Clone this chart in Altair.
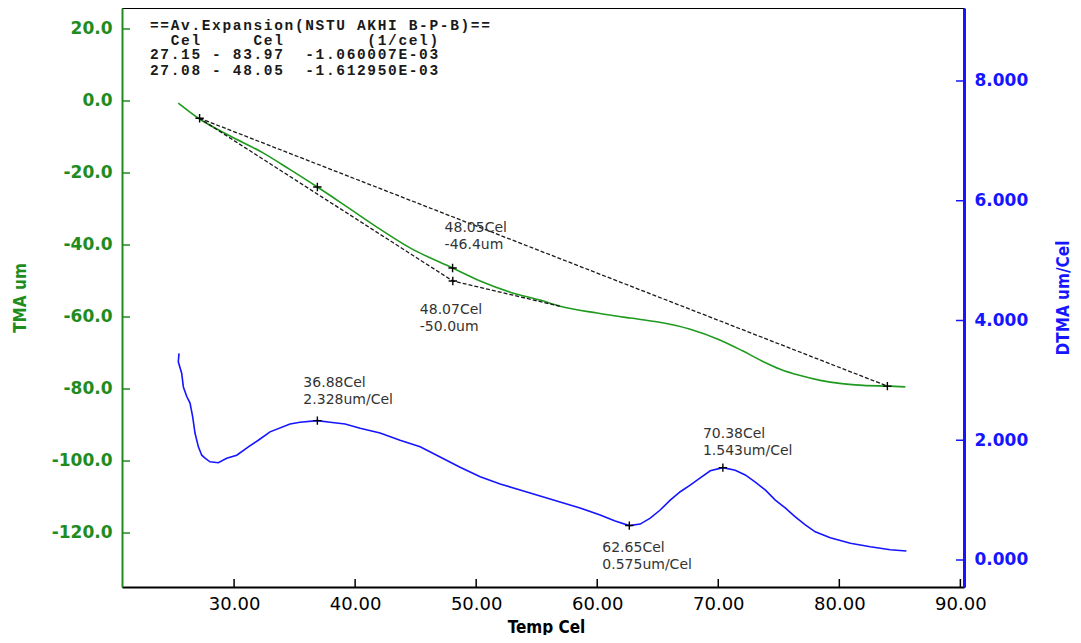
import altair as alt
import pandas as pd

# ---------------- data ----------------
tma_temp = [25.39, 27.05, 29.6, 32.39, 34.6, 36.88, 39.33, 42.06, 44.54, 48.05, 50.33,
            52.81, 55.28, 56.93, 59.99, 62.72, 65.04, 67.68, 70.08, 72.0, 73.6, 75.12,
            76.7, 78.43, 80.2, 81.98, 84.13, 85.45]
tma_val = [-0.6, -4.8, -9.6, -14.4, -19.0, -23.9, -29.4, -35.6, -40.8, -46.4, -50.0,
           -53.1, -55.3, -57.0, -58.9, -60.3, -61.4, -63.4, -66.3, -69.4, -72.2, -74.5,
           -76.2, -77.6, -78.5, -79.0, -79.2, -79.4]

dtma_temp = [25.45, 25.39, 25.67, 25.81, 26.09, 26.36, 26.58, 26.77, 27.05, 27.33, 27.6,
             28.01, 28.7, 29.39, 30.22, 31.18, 32.0, 32.97, 34.62, 35.45, 36.88, 37.93,
             39.17, 40.41, 42.06, 43.71, 45.37, 47.02, 48.67, 50.33, 51.98, 53.63,
             55.28, 56.93, 58.58, 60.24, 61.48, 62.65, 63.55, 64.38, 65.2, 66.03,
             66.86, 67.68, 68.51, 69.34, 70.38, 71.4, 72.23, 73.06, 73.88, 74.71,
             75.53, 76.36, 77.19, 78.01, 79.25, 80.91, 82.56, 84.21, 85.54]
dtma_val = [3.45, 3.31, 3.12, 2.89, 2.73, 2.62, 2.39, 2.12, 1.89, 1.75, 1.70,
            1.64, 1.625, 1.70, 1.75, 1.89, 2.00, 2.14, 2.27, 2.30, 2.328, 2.30,
            2.27, 2.20, 2.12, 2.00, 1.89, 1.72, 1.55, 1.39, 1.27, 1.17,
            1.07, 0.97, 0.87, 0.75, 0.65, 0.575, 0.60, 0.70, 0.835, 1.00,
            1.14, 1.25, 1.37, 1.49, 1.543, 1.50, 1.42, 1.30, 1.17, 1.00,
            0.87, 0.72, 0.585, 0.47, 0.37, 0.28, 0.22, 0.17, 0.15]

fit1_temp = [27.15, 83.97]
fit1_val = [-4.8, -79.2]
fit2_temp = [27.08, 48.07, 56.9]
fit2_val = [-4.7, -50.0, -57.0]

tma_mark_temp = [27.15, 36.88, 48.05, 48.07, 83.97]
tma_mark_val = [-4.8, -23.9, -46.4, -50.0, -79.2]
dtma_mark_temp = [36.88, 62.65, 70.38]
dtma_mark_val = [2.328, 0.575, 1.543]

tma_ann_text = ["48.05Cel\n-46.4um", "48.07Cel\n-50.0um"]
dtma_ann_text = ["36.88Cel\n2.328um/Cel", "62.65Cel\n0.575um/Cel", "70.38Cel\n1.543um/Cel"]

header_lines = ["==Av.Expansion(NSTU AKHI B-P-B)==",
                "  Cel     Cel        (1/cel)",
                "27.15 - 83.97  -1.060007E-03",
                "27.08 - 48.05  -1.612950E-03"]

x_ticks = [30, 40, 50, 60, 70, 80, 90]
left_ticks = [20, 0, -20, -40, -60, -80, -100, -120]
right_ticks = [0, 2, 4, 6, 8]

# ---------------- styles ----------------
W, H = 842, 579
GREEN = "#1e8c1e"
LINE_GREEN = "#1f9a1f"
BLUE = "#1515ff"
NARROW = "Liberation Sans Narrow, DejaVu Sans Condensed, Liberation Sans, sans-serif"
ANN_COLOR = "#333333"

x_scale = alt.Scale(domain=[20.74, 90.3], nice=False, zero=False)
yl_scale = alt.Scale(domain=[-135.0, 25.83], nice=False, zero=False)
yr_scale = alt.Scale(domain=[-0.451, 9.219], nice=False, zero=False)

plus = "M-1,0L1,0M0,-1L0,1"

x_axis = alt.Axis(values=x_ticks, format=".2f", ticks=False, grid=False, orient="bottom",
                  labelFont="DejaVu Sans", labelFontSize=18, labelColor="#000",
                  labelPadding=8, domainColor="#000", domainWidth=2,
                  title="Temp Cel", titleFont=NARROW, titleFontSize=17,
                  titleFontWeight="bold", titleColor="#000",
                  titleX=424, titleY=40, titleBaseline="middle", titleAlign="center")

yl_axis = alt.Axis(values=left_ticks, ticks=False, grid=False, orient="left",
                   labelExpr="replace(format(datum.value, '.1f'), '\u2212', '-')",
                   labelFont="DejaVu Sans", labelFontSize=17, labelFontWeight="bold",
                   labelColor=GREEN, labelPadding=10, domainColor=GREEN, domainWidth=2,
                   title="TMA um", titleFont=NARROW, titleFontSize=17,
                   titleFontWeight="bold", titleColor=GREEN, titleAngle=270,
                   titleX=-102, titleY=H / 2, titleAlign="center", titleBaseline="middle")

yr_axis = alt.Axis(values=right_ticks, format=".3f", ticks=False, grid=False, orient="right",
                   labelFont="DejaVu Sans", labelFontSize=17, labelFontWeight="bold",
                   labelColor=BLUE, labelPadding=10, domainColor=BLUE, domainWidth=3,
                   title="DTMA um/Cel", titleFont=NARROW, titleFontSize=17,
                   titleFontWeight="bold", titleColor=BLUE, titleAngle=270,
                   titleX=99, titleY=H / 2, titleAlign="center", titleBaseline="middle")

X = alt.X("t:Q", scale=x_scale, axis=x_axis)
XR = alt.X("t:Q", scale=x_scale, axis=None)
YL = alt.Y("v:Q", scale=yl_scale, axis=yl_axis)
YR = alt.Y("v:Q", scale=yr_scale, axis=yr_axis)

# ---------------- tables ----------------
tma_df = pd.DataFrame({"t": tma_temp, "v": tma_val, "i": range(len(tma_temp))})
dtma_df = pd.DataFrame({"t": dtma_temp, "v": dtma_val, "i": range(len(dtma_temp))})
fit1_df = pd.DataFrame({"t": fit1_temp, "v": fit1_val, "i": range(len(fit1_temp))})
fit2_df = pd.DataFrame({"t": fit2_temp, "v": fit2_val, "i": range(len(fit2_temp))})
tma_mk = pd.DataFrame({"t": tma_mark_temp, "v": tma_mark_val})
dtma_mk = pd.DataFrame({"t": dtma_mark_temp, "v": dtma_mark_val})

# ---------------- left (TMA) layer ----------------
tma_line = alt.Chart(tma_df).mark_line(color=LINE_GREEN, strokeWidth=1.6,
                                       interpolate="monotone").encode(
    x=X, y=YL, order="i:Q")


def fit_line(df):
    return alt.Chart(df).mark_line(color="#1a1a1a", strokeWidth=1.3, strokeDash=[4, 2]).encode(
        x=X, y=YL, order="i:Q")


tma_points = alt.Chart(tma_mk).mark_point(shape=plus, filled=False, size=70,
                                          strokeWidth=1.4, color="#000", opacity=1).encode(
    x=X, y=YL)

tma_offsets = [(-8, -47), (-33, 22)]
tma_ann_layers = []
for k, (dx, dy) in enumerate(tma_offsets):
    d = pd.DataFrame({"t": [tma_mark_temp[2 + k]], "v": [tma_mark_val[2 + k]],
                      "txt": [tma_ann_text[k]]})
    tma_ann_layers.append(
        alt.Chart(d).mark_text(align="left", baseline="top", dx=dx, dy=dy, lineBreak="\n",
                               lineHeight=17, font="DejaVu Sans", fontSize=14,
                               color=ANN_COLOR).encode(x=X, y=YL, text="txt:N"))

lt_df = pd.DataFrame({"v": left_ticks})
left_tick_rules = alt.Chart(lt_df).mark_rule(color=GREEN, strokeWidth=1.5).encode(
    y=YL, x=alt.value(0), x2=alt.value(8))

xt_df = pd.DataFrame({"t": x_ticks})
x_tick_rules = alt.Chart(xt_df).mark_rule(color="#000", strokeWidth=1.5).encode(
    x=X, y=alt.value(H - 8), y2=alt.value(H))

left_layer = alt.layer(tma_line, fit_line(fit1_df), fit_line(fit2_df), tma_points,
                       left_tick_rules, x_tick_rules, *tma_ann_layers)

# ---------------- right (DTMA) layer ----------------
dtma_line = alt.Chart(dtma_df).mark_line(color=BLUE, strokeWidth=1.6).encode(
    x=XR, y=YR, order="i:Q")

dtma_points = alt.Chart(dtma_mk).mark_point(shape=plus, filled=False, size=70,
                                            strokeWidth=1.4, color="#000", opacity=1).encode(
    x=XR, y=YR)

dtma_offsets = [(-14, -45), (-27, 15), (-20, -41)]
dtma_ann_layers = []
for k, (dx, dy) in enumerate(dtma_offsets):
    d = pd.DataFrame({"t": [dtma_mark_temp[k]], "v": [dtma_mark_val[k]],
                      "txt": [dtma_ann_text[k]]})
    dtma_ann_layers.append(
        alt.Chart(d).mark_text(align="left", baseline="top", dx=dx, dy=dy, lineBreak="\n",
                               lineHeight=17, font="DejaVu Sans", fontSize=14,
                               color=ANN_COLOR).encode(x=XR, y=YR, text="txt:N"))

rt_df = pd.DataFrame({"v": right_ticks})
right_tick_rules = alt.Chart(rt_df).mark_rule(color=BLUE, strokeWidth=1.5).encode(
    y=YR, x=alt.value(W - 8), x2=alt.value(W))

right_layer = alt.layer(dtma_line, dtma_points, right_tick_rules, *dtma_ann_layers)

# ---------------- header block (monospaced, one glyph per column) ----------------
CHAR_W = 10.35
HEADER_X0 = 28
header_y = [18, 33, 47, 63]
rows = []
for r, line in enumerate(header_lines):
    for c, ch in enumerate(line):
        if ch != " ":
            rows.append({"ch": ch, "px": HEADER_X0 + c * CHAR_W, "py": header_y[r]})
header_df = pd.DataFrame(rows)
header = alt.Chart(header_df).mark_text(align="left", baseline="middle",
                                        font="Liberation Mono", fontSize=14.5,
                                        fontWeight="bold", color="#1a1a1a").encode(
    x=alt.X("px:Q", scale=alt.Scale(domain=[0, W], nice=False, zero=False), axis=None),
    y=alt.Y("py:Q", scale=alt.Scale(domain=[H, 0], nice=False, zero=False), axis=None),
    text="ch:N")

chart = alt.layer(left_layer, right_layer, header).resolve_scale(
    y="independent", x="independent").properties(
    width=W, height=H,
    autosize=alt.AutoSizeParams(type="none"),
    padding={"left": 114, "top": 0, "right": 109, "bottom": 48},
    background="white",
).configure_view(stroke="#000", strokeWidth=1)

chart.save("out.html", embed_options={"renderer": "svg", "actions": False})
